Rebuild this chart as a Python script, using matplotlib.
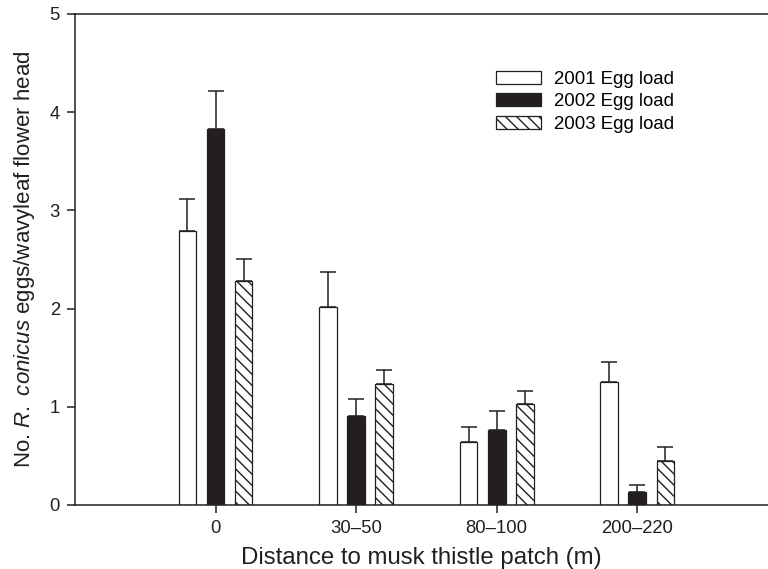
import numpy as np
import matplotlib
matplotlib.use("Agg")
import matplotlib.pyplot as plt

plt.rcParams["font.family"] = ["Liberation Sans", "DejaVu Sans"]
plt.rcParams["mathtext.fontset"] = "custom"
plt.rcParams["mathtext.rm"] = "Liberation Sans"
plt.rcParams["mathtext.it"] = "Liberation Sans:italic"
plt.rcParams["hatch.linewidth"] = 1.0

# distance classes and egg loads
distances = ["0", "30\u201350", "80\u2013100", "200\u2013220"]
series_labels = ["2001 Egg load", "2002 Egg load", "2003 Egg load"]
load_2001 = [2.79, 2.02, 0.645, 1.25]
load_2002 = [3.83, 0.91, 0.765, 0.13]
load_2003 = [2.28, 1.235, 1.03, 0.445]
se_2001 = [0.33, 0.35, 0.145, 0.21]
se_2002 = [0.39, 0.17, 0.19, 0.07]
se_2003 = [0.22, 0.14, 0.13, 0.145]

dark = "#231f20"
styles = [
    dict(facecolor="white", hatch=None),
    dict(facecolor=dark, hatch=None),
    dict(facecolor="white", hatch="\\\\\\"),
]

fig = plt.figure(figsize=(7.68, 5.69), dpi=100)
ax = fig.add_axes([0.0977, 0.1125, 0.9023, 0.8629])

x = np.arange(1, len(distances) + 1)
width = 0.125
offsets = [-0.2, 0.0, 0.2]

for vals, errs, off, st, lab in zip(
    [load_2001, load_2002, load_2003],
    [se_2001, se_2002, se_2003],
    offsets,
    styles,
    series_labels,
):
    ax.bar(
        x + off,
        vals,
        width=width,
        facecolor=st["facecolor"],
        edgecolor=dark,
        hatch=st["hatch"],
        linewidth=0.9,
        label=lab,
        zorder=2,
    )
    ax.errorbar(
        x + off,
        vals,
        yerr=[np.zeros(len(vals)), errs],
        fmt="none",
        ecolor=dark,
        elinewidth=1.1,
        capsize=5.6,
        capthick=1.1,
        zorder=3,
    )

ax.set_xlim(0, 4.93)
ax.set_ylim(0, 5)
ax.set_xticks(x)
ax.set_xticklabels(distances)
ax.set_yticks(range(6))

ax.spines["right"].set_visible(False)
for s in ["left", "top", "bottom"]:
    ax.spines[s].set_linewidth(1.1)
    ax.spines[s].set_color(dark)

ax.tick_params(axis="both", direction="out", length=6, width=1.1, colors=dark,
               labelsize=13.3, labelcolor=dark)
ax.tick_params(axis="y", pad=5)
ax.tick_params(axis="x", pad=5)

ax.set_xlabel("Distance to musk thistle patch (m)", fontsize=17.3, color=dark, labelpad=7)
ax.set_ylabel(r"No. $\mathit{R.\ conicus}$ eggs/wavyleaf flower head",
              fontsize=16, color=dark, labelpad=9)

ax.legend(
    loc="upper left",
    bbox_to_anchor=(0.597, 0.9),
    frameon=False,
    fontsize=13.4,
    handlelength=2.4,
    handleheight=0.7,
    handletextpad=0.7,
    labelspacing=0.3,
    borderaxespad=0,
)

fig.savefig("out.png", dpi=100)
